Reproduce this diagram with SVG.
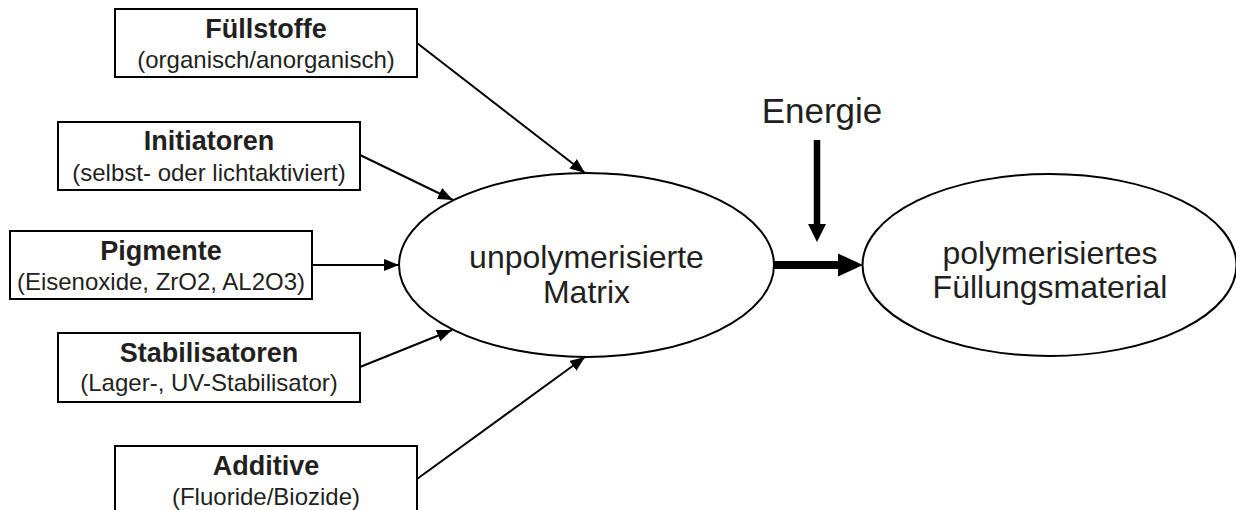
<svg xmlns="http://www.w3.org/2000/svg" width="1236" height="510" viewBox="0 0 1236 510">
<style>
.box{fill:#fff;stroke:#000;stroke-width:2}
.ell{fill:#fff;stroke:#000;stroke-width:2}
.b{font-family:"Liberation Sans",Arial,sans-serif;font-weight:bold;font-size:27px;fill:#231f20;text-anchor:middle}
.r{font-family:"Liberation Sans",Arial,sans-serif;font-size:24px;fill:#231f20;text-anchor:middle}
.big{font-family:"Liberation Sans",Arial,sans-serif;font-size:32px;fill:#231f20;text-anchor:middle}
.con{stroke:#000;stroke-width:2;fill:none;marker-end:url(#ah)}
</style>
<defs>
<marker id="ah" markerUnits="userSpaceOnUse" markerWidth="16" markerHeight="13" refX="15" refY="6" orient="auto">
<path d="M0,0 L15,6 L0,12 z" fill="#000"/>
</marker>
</defs>
<rect width="1236" height="510" fill="#fff"/>
<g id="connectors">
<line class="con" x1="417" y1="43" x2="585" y2="173"/>
<line class="con" x1="360" y1="155" x2="453" y2="200"/>
<line class="con" x1="312" y1="265" x2="399" y2="265"/>
<line class="con" x1="360" y1="367" x2="452" y2="330"/>
<line class="con" x1="417" y1="479" x2="585" y2="357"/>
<line x1="817" y1="140" x2="817" y2="226" stroke="#000" stroke-width="6.5"/>
<polygon points="808,224 826,224 817,242" fill="#000"/>
<line x1="774" y1="265" x2="840" y2="265" stroke="#000" stroke-width="8"/>
<polygon points="838,253.5 838,276.5 863,265" fill="#000"/>
</g>
<g id="fuellstoffe">
<rect class="box" x="115" y="9" width="302" height="68"/>
<text class="b" x="266" y="38">Füllstoffe</text>
<text class="r" x="266" y="68">(organisch/anorganisch)</text>
</g>
<g id="initiatoren">
<rect class="box" x="58" y="122" width="302" height="68"/>
<text class="b" x="209" y="150">Initiatoren</text>
<text class="r" x="209" y="181">(selbst- oder lichtaktiviert)</text>
</g>
<g id="pigmente">
<rect class="box" x="10" y="231" width="302" height="68"/>
<text class="b" x="161" y="260">Pigmente</text>
<text class="r" x="161" y="290">(Eisenoxide, ZrO2, AL2O3)</text>
</g>
<g id="stabilisatoren">
<rect class="box" x="58" y="333" width="302" height="69"/>
<text class="b" x="209" y="362">Stabilisatoren</text>
<text class="r" x="209" y="391">(Lager-, UV-Stabilisator)</text>
</g>
<g id="additive">
<rect class="box" x="115" y="446" width="302" height="72"/>
<text class="b" x="266" y="475">Additive</text>
<text class="r" x="266" y="505">(Fluoride/Biozide)</text>
</g>
<g id="matrix">
<ellipse class="ell" cx="586.5" cy="265" rx="187.5" ry="92"/>
<text class="big" x="586.5" y="268">unpolymerisierte</text>
<text class="big" x="586.5" y="303">Matrix</text>
</g>
<g id="material">
<ellipse class="ell" cx="1049.5" cy="265" rx="187" ry="91"/>
<text class="big" x="1050" y="264">polymerisiertes</text>
<text class="big" x="1050" y="298">Füllungsmaterial</text>
</g>
<g id="energie">
<text class="big" x="822" y="123" style="font-size:35px">Energie</text>
</g>
</svg>
